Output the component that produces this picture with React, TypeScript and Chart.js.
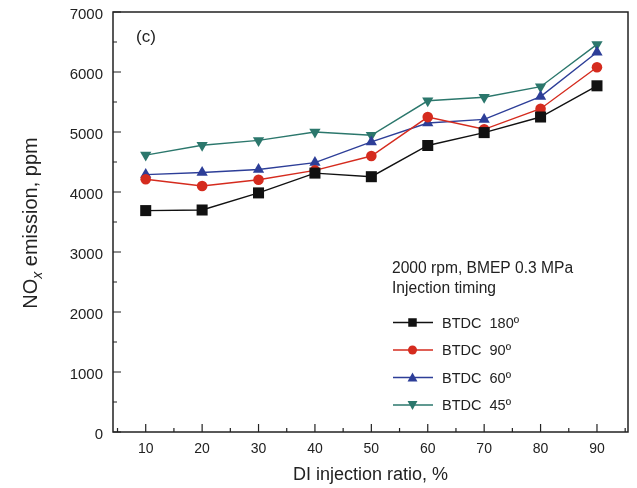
import React, { useEffect, useRef } from "react";
import { Chart, registerables } from "chart.js";

Chart.register(...registerables);

const ratios = [10, 20, 30, 40, 50, 60, 70, 80, 90];
const btdc180 = [3690, 3700, 3985, 4315, 4255, 4775, 4990, 5250, 5770];
const btdc90 = [4212, 4100, 4205, 4360, 4600, 5248, 5045, 5388, 6080];
const btdc60 = [4290, 4325, 4375, 4490, 4835, 5150, 5210, 5590, 6330];
const btdc45 = [4615, 4780, 4860, 5000, 4945, 5520, 5580, 5755, 6460];
const xTicks = [10, 20, 30, 40, 50, 60, 70, 80, 90];
const yTicks = [0, 1000, 2000, 3000, 4000, 5000, 6000, 7000];
const seriesNames = ["BTDC  180º", "BTDC  90º", "BTDC  60º", "BTDC  45º"];
const colors = ["#111111", "#d52b1e", "#2d3e98", "#2b776c"];
const markerKinds = ["rect", "circle", "triangle", "triangleDown"];

const FONT = "'Liberation Sans', Arial, sans-serif";

function drawMarker(ctx: CanvasRenderingContext2D, kind: string, x: number, y: number, s: number, color: string) {
  ctx.save();
  ctx.fillStyle = color;
  ctx.beginPath();
  if (kind === "rect") {
    ctx.rect(x - s / 2, y - s / 2, s, s);
  } else if (kind === "circle") {
    ctx.arc(x, y, s / 2, 0, Math.PI * 2);
  } else if (kind === "triangle") {
    ctx.moveTo(x, y - s * 0.55);
    ctx.lineTo(x + s * 0.55, y + s * 0.45);
    ctx.lineTo(x - s * 0.55, y + s * 0.45);
    ctx.closePath();
  } else {
    ctx.moveTo(x, y + s * 0.55);
    ctx.lineTo(x + s * 0.55, y - s * 0.45);
    ctx.lineTo(x - s * 0.55, y - s * 0.45);
    ctx.closePath();
  }
  ctx.fill();
  ctx.restore();
}

const decorPlugin = {
  id: "decor",
  afterDraw(chart: any) {
    const ctx: CanvasRenderingContext2D = chart.ctx;
    const { left, right, top, bottom } = chart.chartArea;
    const xs = chart.scales.x;
    const ys = chart.scales.y;
    ctx.save();
    ctx.strokeStyle = "#222";
    ctx.lineWidth = 1.5;
    ctx.strokeRect(left, top, right - left, bottom - top);
    ctx.lineWidth = 1.2;
    ctx.beginPath();
    for (let v = 0; v <= 7000; v += 500) {
      const py = ys.getPixelForValue(v);
      const len = v % 1000 === 0 ? 8 : 4;
      ctx.moveTo(left, py);
      ctx.lineTo(left + len, py);
    }
    for (let v = 5; v <= 95; v += 5) {
      const px = xs.getPixelForValue(v);
      if (px < left || px > right) continue;
      const len = v % 10 === 0 ? 8 : 4;
      ctx.moveTo(px, bottom);
      ctx.lineTo(px, bottom - len);
    }
    ctx.stroke();

    ctx.fillStyle = "#222";
    ctx.textBaseline = "middle";
    ctx.textAlign = "left";
    ctx.font = `17px ${FONT}`;
    ctx.fillText("(c)", 136, 37);

    // x title
    ctx.textAlign = "center";
    ctx.font = `18px ${FONT}`;
    ctx.fillText("DI injection ratio, %", (left + right) / 2, 475);

    // y title with subscript
    ctx.save();
    ctx.translate(31, 223);
    ctx.rotate(-Math.PI / 2);
    const f1 = `20px ${FONT}`;
    const f2 = `italic 14px ${FONT}`;
    ctx.font = f1;
    const w1 = ctx.measureText("NO").width;
    const w3 = ctx.measureText(" emission, ppm").width;
    ctx.font = f2;
    const w2 = ctx.measureText("x").width;
    let sx = -(w1 + w2 + w3) / 2;
    ctx.textAlign = "left";
    ctx.font = f1;
    ctx.fillText("NO", sx, 0);
    sx += w1;
    ctx.font = f2;
    ctx.fillText("x", sx, 7);
    sx += w2;
    ctx.font = f1;
    ctx.fillText(" emission, ppm", sx, 0);
    ctx.restore();

    // legend
    ctx.textAlign = "left";
    ctx.font = `15.6px ${FONT}`;
    ctx.fillStyle = "#222";
    ctx.fillText("2000 rpm, BMEP 0.3 MPa", 392, 269);
    ctx.fillText("Injection timing", 392, 288.5);
    const rowY = [322.5, 350, 377.5, 405];
    ctx.font = `14.5px ${FONT}`;
    seriesNames.forEach((name, i) => {
      const y = rowY[i];
      ctx.strokeStyle = colors[i];
      ctx.lineWidth = 1.3;
      ctx.beginPath();
      ctx.moveTo(393, y);
      ctx.lineTo(433, y);
      ctx.stroke();
      drawMarker(ctx, markerKinds[i], 412.5, y, i === 0 ? 8.5 : 9, colors[i]);
      ctx.fillStyle = "#222";
      ctx.fillText(name, 442, y + 1);
    });
    ctx.restore();
  },
};

export default function App() {
  const ref = useRef<HTMLCanvasElement | null>(null);
  useEffect(() => {
    document.body.style.margin = "0";
    const canvas = ref.current!;
    const mk = (data: number[], i: number) => {
      const kind = markerKinds[i];
      const base: any = {
        label: seriesNames[i],
        data: ratios.map((r, j) => ({ x: r, y: data[j] })),
        borderColor: colors[i],
        backgroundColor: colors[i],
        borderWidth: 1.4,
        pointBorderWidth: 0,
        pointBackgroundColor: colors[i],
      };
      if (kind === "rect") {
        base.pointStyle = "rect";
        base.pointRadius = 7.8;
      } else if (kind === "circle") {
        base.pointStyle = "circle";
        base.pointRadius = 5.3;
      } else if (kind === "triangle") {
        base.pointStyle = "triangle";
        base.pointRadius = 6.5;
      } else {
        base.pointStyle = "triangle";
        base.pointRotation = 180;
        base.pointRadius = 6.5;
      }
      return base;
    };
    const chart = new Chart(canvas, {
      type: "line",
      data: {
        datasets: [mk(btdc180, 0), mk(btdc90, 1), mk(btdc60, 2), mk(btdc45, 3)],
      },
      options: {
        animation: false,
        responsive: false,
        maintainAspectRatio: false,
        layout: { padding: { top: 12, right: 9, left: 0, bottom: 0 } },
        plugins: { legend: { display: false }, tooltip: { enabled: false } },
        scales: {
          x: {
            type: "linear",
            min: 4.2,
            max: 95.5,
            grid: { display: false, drawTicks: false },
            border: { display: false },
            afterBuildTicks: (s: any) => {
              s.ticks = xTicks.map((v) => ({ value: v }));
            },
            afterFit: (s: any) => {
              s.height = 56;
            },
            ticks: {
              color: "#222",
              font: { family: FONT, size: 14 },
              padding: 9,
              callback: (v: any) => String(v),
            },
          },
          y: {
            min: 0,
            max: 7000,
            grid: { display: false, drawTicks: false },
            border: { display: false },
            afterBuildTicks: (s: any) => {
              s.ticks = yTicks.map((v) => ({ value: v }));
            },
            afterFit: (s: any) => {
              s.width = 113;
              s.paddingTop = 0;
              s.paddingBottom = 0;
            },
            ticks: {
              color: "#222",
              font: { family: FONT, size: 15 },
              padding: 10,
              labelOffset: 3,
              callback: (v: any) => String(v),
            },
          },
        },
      },
      plugins: [decorPlugin],
    });
    return () => chart.destroy();
  }, []);
  return (
    <div style={{ width: 637, height: 488 }}>
      <canvas ref={ref} width={637} height={488} style={{ display: "block" }} />
    </div>
  );
}
